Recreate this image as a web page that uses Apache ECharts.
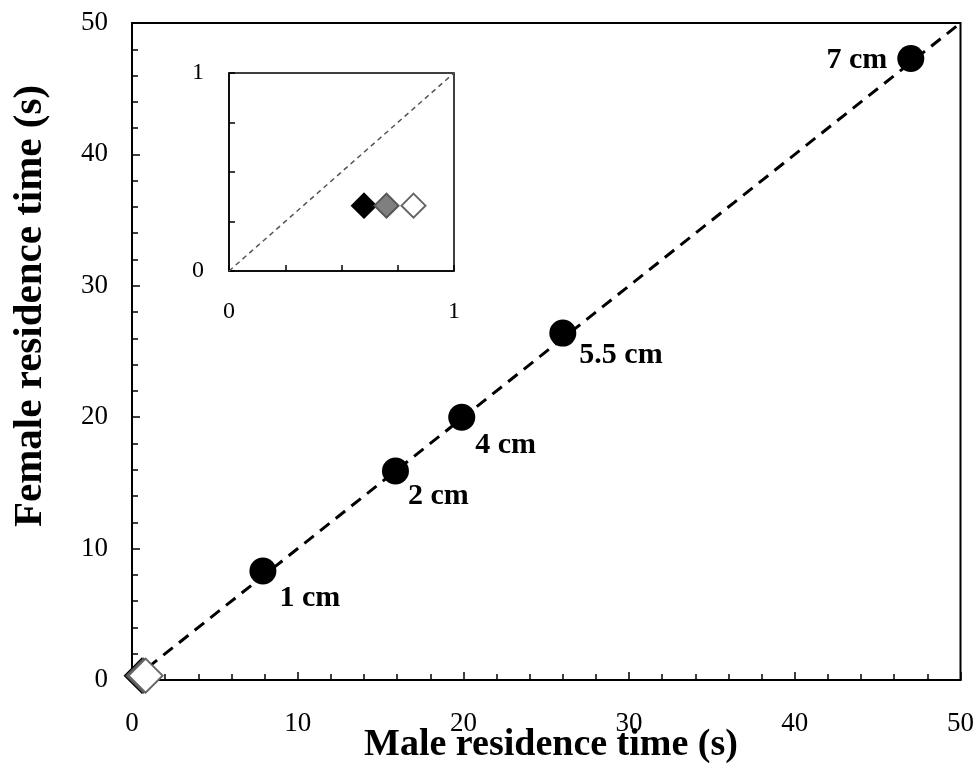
<!DOCTYPE html>
<html>
<head>
<meta charset="utf-8">
<script src="https://cdn.jsdelivr.net/npm/echarts@6/dist/echarts.min.js"></script>
<style>
html,body{margin:0;padding:0;background:#fff;}
#chart{width:977px;height:769px;}
</style>
</head>
<body>
<div id="chart"></div>
<script>
// ---- data ----
const pointLabels = ['1 cm', '2 cm', '4 cm', '5.5 cm', '7 cm'];
const maleTimes   = [7.9, 15.9, 19.9, 26.0, 47.0];
const femaleTimes = [8.3, 15.9, 20.0, 26.4, 47.3];
const diamondX    = [0.6, 0.7, 0.82];
const diamondY    = [0.33, 0.33, 0.33];
const diagonalLine = [[0, 0], [50, 50]];
const insetDiagonal = [[0, 0], [1, 1]];
const mainTicks = [0, 10, 20, 30, 40, 50];
const insetTicks = [0, 1];
const xTitle = 'Male residence time (s)';
const yTitle = 'Female residence time (s)';

// ---- presentation ----
const serif = '"Liberation Serif", "Times New Roman", serif';
const labelPlacement = [
  {pos: [30, 41], align: 'left'},
  {pos: [26, 39], align: 'left'},
  {pos: [27, 42], align: 'left'},
  {pos: [30, 36], align: 'left'},
  {pos: [-10, 15], align: 'right'}
];
const diamondStyles = [
  {color: '#000', borderColor: '#000'},
  {color: '#7f7f7f', borderColor: '#555'},
  {color: '#fff', borderColor: '#666'}
];

const chart = echarts.init(document.getElementById('chart'), null, {renderer: 'canvas'});

const circleData = maleTimes.map((x, i) => ({
  value: [x, femaleTimes[i]],
  label: {
    show: true,
    formatter: pointLabels[i],
    position: labelPlacement[i].pos,
    align: labelPlacement[i].align,
    verticalAlign: 'middle',
    fontFamily: serif, fontWeight: 'bold', fontSize: 30, color: '#000'
  }
}));

function diamondSeries(xIdx, yIdx, size, i) {
  return {
    type: 'scatter', xAxisIndex: xIdx, yAxisIndex: yIdx,
    symbol: 'diamond', symbolSize: size, clip: false, silent: true,
    z: 5 + i,
    itemStyle: {color: diamondStyles[i].color, borderColor: diamondStyles[i].borderColor, borderWidth: 2, opacity: 1},
    data: [[diamondX[i], diamondY[i]]]
  };
}

function mainLabel(margin) {
  return {
    fontFamily: serif, fontSize: 27, color: '#000', margin: margin,
    formatter: v => (mainTicks.indexOf(v) >= 0 ? String(v) : '')
  };
}
function insetLabel(margin) {
  return {
    fontFamily: serif, fontSize: 24, color: '#000', margin: margin,
    formatter: v => (insetTicks.indexOf(v) >= 0 ? String(v) : '')
  };
}

function mainAxis(extra) {
  return Object.assign({
    type: 'value', min: 0, max: 50, interval: 10,
    axisLine: {show: true, onZero: false, lineStyle: {color: '#000', width: 2}},
    axisTick: {show: true, inside: true, length: 8, lineStyle: {color: '#000', width: 1.5}},
    minorTick: {show: true, splitNumber: 5, length: 6, lineStyle: {color: '#000', width: 1.5}},
    splitLine: {show: false}
  }, extra);
}

function insetAxis(extra) {
  return Object.assign({
    type: 'value', min: 0, max: 1, interval: 0.25,
    axisLine: {show: true, onZero: false, lineStyle: {color: '#000', width: 1.5}},
    axisTick: {show: true, inside: true, length: 6, lineStyle: {color: '#000', width: 1.5}},
    splitLine: {show: false}
  }, extra);
}

const option = {
  backgroundColor: '#fff',
  animation: false,
  grid: [
    {left: 132, right: 15, top: 23, bottom: 89, show: true, borderColor: '#000', borderWidth: 2, backgroundColor: 'transparent'},
    {left: 229, top: 73, width: 225, height: 198, show: true, borderColor: '#000', borderWidth: 1.5, backgroundColor: '#fff', z: 10}
  ],
  xAxis: [
    mainAxis({gridIndex: 0, axisLabel: mainLabel(30)}),
    insetAxis({gridIndex: 1, z: 10, axisLabel: insetLabel(29)})
  ],
  yAxis: [
    mainAxis({gridIndex: 0, axisLabel: mainLabel(24)}),
    insetAxis({gridIndex: 1, z: 10, axisLabel: insetLabel(25)})
  ],
  graphic: [
    {type: 'text', x: 551, y: 745, style: {text: xTitle, font: 'bold 38px ' + serif, fill: '#000', textAlign: 'center', textVerticalAlign: 'middle'}},
    {type: 'text', x: 30, y: 306, rotation: Math.PI / 2, style: {text: yTitle, font: 'bold 41px ' + serif, fill: '#000', textAlign: 'center', textVerticalAlign: 'middle'}}
  ],
  series: [
    {
      type: 'line', xAxisIndex: 0, yAxisIndex: 0, data: diagonalLine,
      symbol: 'none', silent: true, z: 2,
      lineStyle: {color: '#000', width: 3, type: [12, 8]}
    },
    {
      type: 'scatter', xAxisIndex: 0, yAxisIndex: 0, data: circleData,
      symbol: 'circle', symbolSize: 27, clip: false, z: 4,
      itemStyle: {color: '#000', opacity: 1}
    },
    diamondSeries(0, 0, 34, 0),
    diamondSeries(0, 0, 34, 1),
    diamondSeries(0, 0, 34, 2),
    {
      type: 'line', xAxisIndex: 1, yAxisIndex: 1, data: insetDiagonal,
      symbol: 'none', silent: true, z: 11,
      lineStyle: {color: '#555', width: 1.5, type: [5, 4]}
    },
    Object.assign(diamondSeries(1, 1, 24, 0), {z: 12}),
    Object.assign(diamondSeries(1, 1, 24, 1), {z: 13}),
    Object.assign(diamondSeries(1, 1, 24, 2), {z: 14})
  ]
};

chart.setOption(option);
</script>
</body>
</html>
